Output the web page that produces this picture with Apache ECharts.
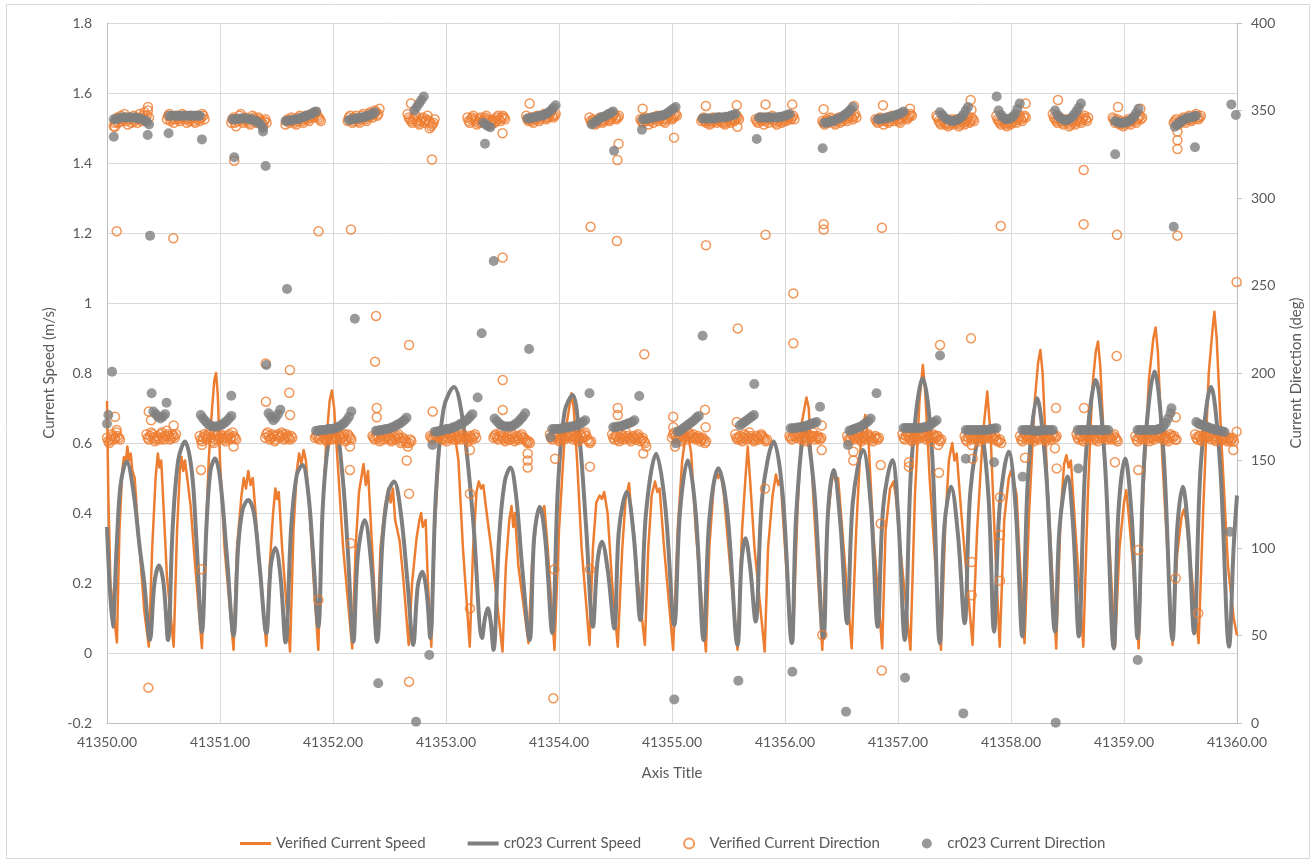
<!DOCTYPE html>
<html>
<head>
<meta charset="utf-8">
<title>Current speed and direction</title>
<script src="https://cdn.jsdelivr.net/npm/echarts@6/dist/echarts.min.js"></script>
<style>
  html, body { margin: 0; padding: 0; background: #fff; }
  #chart { width: 1316px; height: 863px; }
</style>
</head>
<body>
<div id="chart"></div>
<script>
// Times are stored as days after DAY0 (spreadsheet day numbers).
const DAY0 = 41350;
// Measured direction runs are 15-minute records, modelled runs are half-hourly.
const MEASURED_STEP = 1 / 96;
const MODEL_STEP = 1 / 48;

const xRange = [41350, 41360];
const speedRange = [-0.2, 1.8];
const directionRange = [0, 400];

const seriesNames = ['Verified Current Speed', 'cr023 Current Speed', 'Verified Current Direction', 'cr023 Current Direction'];

// Measured current speed (m/s)
const verifiedSpeed = [
  [0.000,0.72],[0.012,0.45],[0.03,0.20],[0.088,0.03],[0.11,0.35],[0.135,0.52],[0.15,0.56],[0.165,0.54],[0.18,0.59],[0.195,0.55],[0.21,0.57],[0.225,0.52],[0.245,0.50],[0.27,0.38],[0.30,0.25],[0.33,0.12],[0.37,0.018],
  [0.40,0.30],[0.43,0.50],[0.45,0.57],[0.465,0.53],[0.48,0.55],[0.50,0.42],[0.53,0.22],[0.59,0.018],
  [0.62,0.35],[0.645,0.52],[0.66,0.56],[0.675,0.52],[0.69,0.55],[0.71,0.50],[0.74,0.42],[0.78,0.25],[0.84,0.014],
  [0.87,0.30],[0.90,0.55],[0.93,0.70],[0.95,0.78],[0.965,0.80],[0.98,0.74],[1.00,0.55],[1.04,0.30],[1.12,0.009],
  [1.15,0.30],[1.19,0.45],[1.21,0.50],[1.23,0.47],[1.25,0.52],[1.27,0.48],[1.29,0.50],[1.31,0.42],[1.35,0.25],[1.41,0.02],
  [1.44,0.25],[1.47,0.40],[1.49,0.47],[1.505,0.44],[1.52,0.46],[1.55,0.30],[1.62,0.004],
  [1.65,0.35],[1.68,0.52],[1.70,0.57],[1.72,0.54],[1.74,0.58],[1.76,0.55],[1.79,0.42],[1.83,0.20],[1.87,0.009],
  [1.90,0.35],[1.94,0.60],[1.97,0.72],[1.99,0.75],[2.01,0.70],[2.04,0.55],[2.09,0.30],[2.17,0.013],
  [2.20,0.30],[2.23,0.46],[2.25,0.50],[2.27,0.54],[2.29,0.48],[2.31,0.52],[2.33,0.40],[2.36,0.22],[2.39,0.03],
  [2.42,0.30],[2.46,0.42],[2.49,0.47],[2.51,0.43],[2.53,0.47],[2.55,0.38],[2.59,0.32],[2.62,0.22],[2.67,0.023],
  [2.70,0.20],[2.74,0.33],[2.765,0.38],[2.78,0.40],[2.795,0.36],[2.82,0.38],[2.84,0.20],[2.87,0.018],
  [2.90,0.35],[2.94,0.58],[2.97,0.63],[3.00,0.65],[3.02,0.62],[3.05,0.65],[3.08,0.62],[3.11,0.55],[3.15,0.30],[3.21,0.018],
  [3.24,0.30],[3.27,0.46],[3.29,0.49],[3.31,0.47],[3.33,0.48],[3.36,0.40],[3.40,0.30],[3.44,0.18],[3.50,0.004],
  [3.53,0.25],[3.56,0.38],[3.58,0.42],[3.595,0.36],[3.61,0.40],[3.64,0.25],[3.73,0.028],
  [3.76,0.25],[3.80,0.38],[3.83,0.415],[3.85,0.40],[3.87,0.42],[3.90,0.30],[3.96,0.009],
  [4.00,0.35],[4.05,0.62],[4.09,0.70],[4.11,0.742],[4.13,0.70],[4.16,0.55],[4.20,0.30],[4.27,0.023],
  [4.30,0.30],[4.33,0.43],[4.36,0.45],[4.38,0.44],[4.40,0.46],[4.43,0.40],[4.47,0.20],[4.52,0.018],
  [4.56,0.30],[4.59,0.44],[4.62,0.485],[4.635,0.42],[4.66,0.35],[4.70,0.20],[4.76,0.023],
  [4.79,0.30],[4.82,0.45],[4.85,0.49],[4.87,0.46],[4.89,0.47],[4.93,0.30],[5.01,0.009],
  [5.05,0.35],[5.09,0.55],[5.12,0.62],[5.14,0.63],[5.17,0.57],[5.21,0.35],[5.30,0.004],
  [5.33,0.30],[5.37,0.48],[5.39,0.52],[5.41,0.50],[5.43,0.52],[5.46,0.45],[5.50,0.30],[5.58,0.009],
  [5.62,0.35],[5.65,0.50],[5.67,0.59],[5.69,0.50],[5.73,0.30],[5.82,0.004],
  [5.85,0.30],[5.89,0.45],[5.92,0.51],[5.94,0.48],[5.96,0.50],[5.99,0.35],[6.03,0.15],[6.07,0.03],
  [6.11,0.40],[6.15,0.66],[6.19,0.73],[6.21,0.70],[6.25,0.45],[6.33,0.009],
  [6.37,0.35],[6.41,0.48],[6.43,0.52],[6.45,0.49],[6.47,0.50],[6.50,0.38],[6.59,0.013],
  [6.63,0.35],[6.67,0.60],[6.71,0.68],[6.74,0.60],[6.78,0.35],[6.86,0.013],
  [6.89,0.35],[6.93,0.47],[6.96,0.49],[6.98,0.45],[7.02,0.30],[7.11,0.009],
  [7.15,0.45],[7.19,0.72],[7.22,0.823],[7.24,0.75],[7.28,0.50],[7.38,0.009],
  [7.42,0.38],[7.45,0.55],[7.48,0.60],[7.50,0.55],[7.52,0.57],[7.56,0.40],[7.66,0.023],
  [7.70,0.35],[7.75,0.62],[7.79,0.747],[7.82,0.62],[7.86,0.30],[7.90,0.018],
  [7.94,0.38],[7.98,0.50],[8.00,0.52],[8.02,0.50],[8.05,0.45],[8.08,0.25],[8.12,0.028],
  [8.16,0.40],[8.21,0.72],[8.24,0.83],[8.26,0.866],[8.28,0.80],[8.32,0.50],[8.40,0.013],
  [8.44,0.40],[8.47,0.54],[8.49,0.565],[8.51,0.53],[8.53,0.55],[8.57,0.35],[8.64,0.018],
  [8.68,0.45],[8.72,0.76],[8.75,0.86],[8.77,0.89],[8.79,0.82],[8.83,0.55],[8.92,0.018],
  [8.96,0.30],[9.00,0.43],[9.02,0.465],[9.04,0.40],[9.08,0.25],[9.13,0.013],
  [9.17,0.45],[9.22,0.78],[9.26,0.90],[9.28,0.93],[9.30,0.86],[9.34,0.55],[9.43,0.023],
  [9.47,0.28],[9.51,0.39],[9.53,0.41],[9.55,0.38],[9.59,0.25],[9.66,0.028],
  [9.70,0.40],[9.75,0.80],[9.785,0.93],[9.80,0.975],[9.82,0.90],[9.86,0.62],[9.92,0.25],[9.97,0.10],[10.0,0.05]
];

// Modelled current speed (m/s)
const cr023Speed = [
  [0.000,0.36],[0.050,0.075],[0.085,0.30],[0.12,0.48],[0.174,0.547],[0.23,0.47],[0.29,0.30],[0.33,0.20],[0.380,0.037],
  [0.42,0.20],[0.46,0.25],[0.50,0.20],[0.540,0.037],
  [0.58,0.35],[0.63,0.55],[0.690,0.604],[0.75,0.52],[0.79,0.33],[0.840,0.06],
  [0.88,0.36],[0.915,0.52],[0.956,0.556],[1.00,0.50],[1.06,0.28],[1.120,0.05],
  [1.16,0.30],[1.20,0.41],[1.250,0.437],[1.30,0.40],[1.35,0.25],[1.410,0.057],
  [1.45,0.25],[1.490,0.30],[1.535,0.22],[1.580,0.03],
  [1.63,0.36],[1.68,0.51],[1.730,0.537],[1.78,0.46],[1.82,0.30],[1.870,0.075],
  [1.91,0.42],[1.96,0.60],[2.02,0.64],[2.08,0.52],[2.13,0.30],[2.180,0.032],
  [2.22,0.28],[2.280,0.38],[2.34,0.25],[2.390,0.032],
  [2.44,0.33],[2.49,0.46],[2.540,0.49],[2.60,0.40],[2.66,0.20],[2.710,0.023],
  [2.75,0.19],[2.790,0.232],[2.83,0.17],[2.860,0.043],
  [2.91,0.45],[2.98,0.70],[3.070,0.76],[3.15,0.66],[3.24,0.38],[3.320,0.043],
  [3.345,0.10],[3.370,0.128],[3.395,0.09],[3.420,0.009],
  [3.47,0.33],[3.52,0.49],[3.570,0.53],[3.62,0.45],[3.67,0.26],[3.740,0.037],
  [3.78,0.33],[3.830,0.418],[3.88,0.32],[3.940,0.057],
  [3.99,0.47],[4.05,0.69],[4.120,0.737],[4.18,0.62],[4.24,0.36],[4.300,0.075],
  [4.34,0.26],[4.380,0.318],[4.43,0.24],[4.490,0.07],
  [4.53,0.35],[4.600,0.46],[4.66,0.34],[4.720,0.094],
  [4.77,0.40],[4.860,0.569],[4.94,0.42],[5.020,0.08],
  [5.07,0.40],[5.140,0.551],[5.21,0.40],[5.280,0.037],
  [5.33,0.38],[5.410,0.528],[5.49,0.40],[5.580,0.023],
  [5.615,0.26],[5.650,0.328],[5.69,0.25],[5.740,0.09],
  [5.80,0.45],[5.900,0.604],[5.98,0.45],[6.060,0.028],
  [6.10,0.40],[6.180,0.64],[6.26,0.46],[6.340,0.042],
  [6.38,0.40],[6.430,0.523],[6.49,0.37],[6.550,0.085],
  [6.60,0.43],[6.690,0.58],[6.76,0.42],[6.820,0.075],
  [6.87,0.42],[6.950,0.551],[7.00,0.40],[7.060,0.037],
  [7.12,0.55],[7.220,0.785],[7.30,0.58],[7.370,0.028],
  [7.41,0.36],[7.470,0.475],[7.53,0.34],[7.590,0.085],
  [7.64,0.46],[7.730,0.63],[7.80,0.45],[7.850,0.061],
  [7.90,0.42],[7.980,0.575],[8.04,0.42],[8.100,0.047],
  [8.15,0.50],[8.230,0.728],[8.31,0.52],[8.390,0.061],
  [8.43,0.36],[8.500,0.504],[8.55,0.36],[8.600,0.047],
  [8.66,0.55],[8.750,0.78],[8.83,0.55],[8.910,0.013],
  [8.95,0.40],[9.010,0.556],[9.07,0.38],[9.120,0.042],
  [9.18,0.56],[9.270,0.804],[9.35,0.57],[9.430,0.037],
  [9.47,0.35],[9.520,0.475],[9.57,0.34],[9.620,0.056],
  [9.68,0.54],[9.770,0.76],[9.85,0.54],[9.930,0.018],
  [9.97,0.30],[10.0,0.45]
];

// Measured direction (deg). Runs: [start day offset, 15-minute values]
const verifiedEbbRuns = [
  [0.06, [341,343,344,346,343,345,347,344,345,348,346,344,342,345,346,343,345,347,344,346,343,345,348,346,344,347,349,345,347,350,346]],
  [0.53, [345,347,348,344,345,346,343,345,347,346,345,344,346,348,347,345,346,343,345,344,347,345,346,344,343,346,347,345,344,346,348,347,345]],
  [1.10, [343,345,346,343,341,344,345,347,348,345,343,344,346,345,344,343,342,345,347,346,345,343,344,346,345,344,343,342,344,345,343]],
  [1.58, [342,344,345,343,344,346,345,344,343,342,344,346,347,345,344,343,345,347,346,345,344,346,348,347,346,348,349,347,346,345,344]],
  [2.13, [344,346,347,345,343,344,346,347,345,344,343,345,347,348,346,345,344,346,348,349,347,346,348,350,349,347,348,351]],
  [2.66, [348,346,345,344,343,345,346,347,344,343,342,344,345,346,343,344,345,347,344,343,341,342,343,345]],
  [3.19, [346,344,343,345,346,347,345,344,342,343,345,346,343,344,345,346,347,345,344,343,342,344,345,343,344,346,347,345,344,346,347,346,345]],
  [3.71, [347,345,344,345,346,344,343,345,345,347,346,344,345,346,347,348,346,345,346,347,348,349,347,346,347,348]],
  [4.27, [346,344,343,345,344,342,343,344,345,346,344,343,344,345,346,347,345,344,345,346,347,348,346,345,346,347]],
  [4.72, [345,344,343,345,346,344,345,342,344,345,346,343,345,346,347,344,345,346,347,345,344,343,345,346,347,348,346,345,346,347,348,347]],
  [5.26, [344,345,346,344,343,345,344,342,343,344,346,345,344,343,345,346,344,345,343,344,342,343,345,346,344,343,345,346,344,345,347,346,345]],
  [5.74, [345,344,343,345,346,344,345,342,344,345,346,343,345,346,347,344,345,343,342,344,345,346,343,344,345,346,344,345,346,347,345,346,347,345]],
  [6.33, [344,343,342,344,345,343,344,346,345,344,343,342,344,345,346,343,345,344,346,347,345,344,346,347,348,346,345,347,348,346]],
  [6.80, [345,344,343,345,346,344,345,342,344,345,346,343,344,346,347,345,344,346,347,345,344,343,345,346,347,348,346,345,346,347,348,347]],
  [7.34, [347,346,344,343,342,344,345,343,342,343,341,342,344,345,343,342,344,345,343,341,342,344,345,343,342,344,345,346,343,344,346,345,344]],
  [7.87, [347,345,344,343,342,344,345,343,342,341,343,344,342,343,345,346,344,343,345,346,347,345,344,346,347,346]],
  [8.37, [348,346,345,344,343,345,346,344,343,342,344,345,344,343,341,342,344,345,343,342,344,345,346,344,343,345,346,347,345,344,346]],
  [8.90, [346,345,343,344,345,343,342,344,343,341,342,343,344,345,343,342,344,345,346,344,343,345,346,347,345,346]],
  [9.44, [343,344,345,343,342,343,344,345,346,344,343,345,346,347,345,344,345,346,347,348,346,345,346,347]]
];
const verifiedFloodRuns = [
  [0.00, [163,161,160,162,165,164,162,163,166,164,163,162]],
  [0.35, [165,163,162,164,166,165,163,161,162,164,163,162,165,166,163,162,164,167,165,164,162,163,165,164,163,165]],
  [0.82, [164,162,161,163,165,164,162,163,166,165,163,161,160,162,164,165,162,163,165,164,163,162,161,163,164,165,162,163,166,164,163,162]],
  [1.40, [163,165,166,164,162,163,165,164,161,162,164,165,163,164,166,165,162,163,165,164,163,162,164,163]],
  [1.84, [163,164,165,163,162,164,166,165,163,162,161,163,164,165,162,163,165,164,163,162,166,164,162,163,164,165,161,162,165,164,163,162]],
  [2.35, [164,163,162,164,165,163,161,162,164,165,162,163,166,164,163,162,161,162,164,163,162,164,165,163,160,161,163,162,161,160,158,160,162,161]],
  [2.86, [164,163,162,164,165,164,163,165,166,164,162,163,164,162,161,163,165,164,163,162,166,164,162,163,164,163,162,164,165,163,163,162,161,163,164,163,162,164,165,163]],
  [3.42, [163,164,165,163,162,164,166,164,163,162,161,163,164,162,162,164,165,163,161,162,164,163,162,164,165,163,163,162,161,160,161,160]],
  [3.92, [165,163,162,164,166,164,163,162,161,163,164,163,162,164,165,164,163,165,166,164,162,163,164,163,161,162,165,164,163,165,166,164,162,161,160,161]],
  [4.47, [165,163,162,164,164,162,161,163,165,164,162,163,166,164,163,162,161,163,164,163,162,164,165,163,161,162,163,161,160,158]],
  [5.00, [163,165,166,164,162,163,165,164,161,162,164,163,162,164,166,165,163,164,165,163,162,163,164,163,161,162,163,162,160,161]],
  [5.56, [165,163,162,163,164,162,161,163,165,164,162,163,166,164,163,162,161,162,164,163,162,164,165,164,163,162,161,162]],
  [6.04, [164,163,162,164,165,164,163,165,166,164,162,163,164,162,161,163,165,164,163,164,166,164,162,163,164,163,162,163]],
  [6.55, [164,162,161,163,165,164,162,163,166,164,163,162,161,163,164,163,162,164,165,164,163,162,161,163,164,163,162,163]],
  [7.04, [165,163,162,164,166,164,163,162,161,163,164,163,162,164,165,164,163,165,166,164,162,163,164,163,161,163,165,164,163,164,164,162,161,162]],
  [7.59, [164,162,161,163,165,164,162,163,166,164,163,162,161,163,164,163,162,164,165,164,163,165,166,164,162,163,164,162,161,161,162,160]],
  [8.08, [164,162,161,163,165,164,162,163,165,164,163,162,161,163,164,163,162,164,166,165,163,162,161,163,164,163,162,164,165,164,163,164]],
  [8.58, [165,163,162,164,164,162,161,163,165,164,163,164,166,164,162,163,164,162,161,163,165,164,163,164,166,164,162,163,164,163,162,164,165,163,162,161]],
  [9.10, [164,162,161,163,165,164,162,163,166,164,163,162,161,163,164,163,162,164,165,164,163,165,166,164,162,163,164,162,161,163,165,164,163,164,162,162]],
  [9.63, [165,163,162,164,164,162,161,163,165,164,163,164,166,164,162,163,164,162,161,163,165,164,163,162,162,164,163,161,162,163,161,162,163,161]]
];
const verifiedDirOther = [
  [0.07,340.7],[0.363,352],[2.69,354],[2.855,339.8],[3.50,337],[3.74,354],[4.74,351],[5.30,352.6],[5.573,353],[5.579,340.7],
  [5.828,353.5],[6.064,353.5],[6.342,350.7],[6.611,352.6],[6.867,353],[7.106,351],[7.643,356],[7.65,350.5],[8.129,354],[8.416,356],
  [8.947,352],[9.145,351],[9.473,338],[9.473,333],[9.473,328],
  [0.071,175],[0.086,167.4],[0.37,178],[0.39,173],[0.59,170],[0.84,159],[1.12,158],[1.62,176],
  [0.086,281],[0.366,20.2],[0.587,277],[0.832,144.6],[0.838,87.8],[1.126,321.3],[1.405,205.5],[1.407,183.6],[1.613,188.7],[1.619,201.7],
  [1.870,70.3],[1.872,281],[2.150,158],[2.150,144.6],[2.157,102.7],[2.159,282],[2.372,206.5],[2.381,232.6],[2.387,180],[2.387,174.7],
  [2.652,150],[2.673,216],[2.673,131],[2.673,23.6],[2.876,322],[2.882,178],[3.212,156],[3.212,131],[3.212,65.5],[3.501,266],
  [3.502,196],[3.502,178.9],[3.723,154],[3.723,150],[3.723,146],[3.950,14.1],[3.958,87.8],[3.965,151],[4.274,146.5],[4.274,87.8],
  [4.279,283.6],[4.512,275.4],[4.517,321.7],[4.520,180],[4.520,176],[4.527,331],[4.746,154],[4.755,210.7],[5.011,175],[5.011,169],
  [5.018,334.5],[5.027,158],[5.292,179],[5.298,169],[5.301,273],[5.573,172],[5.582,225.5],[5.823,134],[5.828,279],[6.074,245.5],
  [6.074,217],[6.325,170],[6.325,156],[6.330,50.3],[6.342,285],[6.342,282],[6.605,155],[6.605,150],[6.847,147.4],[6.847,114],
  [6.856,30],[6.858,283],[7.097,149],[7.097,146.5],[7.357,158.9],[7.363,143],[7.372,216],[7.646,219.8],[7.652,158.9],[7.661,151],
  [7.652,92],[7.652,73],[7.903,129],[7.903,107.4],[7.903,81.3],[7.909,284],[8.124,151.6],[8.389,157],[8.398,180],[8.404,145.5],
  [8.643,316],[8.643,285],[8.646,180],[8.920,149],[8.935,209.7],[8.938,279],[9.127,144.6],[9.127,98.9],[9.458,174.7],[9.458,82.7],
  [9.473,278.5],[9.657,62.7],[9.967,156],[9.997,166.5],[9.997,252]
];

// Modelled direction (deg). Runs: [start day offset, half-hourly values]
const cr023EbbRuns = [
  [0.06, [345,345,345.5,346,346,346,346,346,346,346,345.5,345.5,345,344.5,343.5,342]],
  [0.55, [347,347,347,347,347,347,347,347,347,347,347,347,347,347]],
  [1.11, [345,345,345,345.5,345.5,345.5,345.5,345,345,344.5,344,343,342,340]],
  [1.58, [344,344,344.5,344.5,345,345,345.5,346,346.5,347,347.5,348,349,349.5]],
  [2.14, [344.5,345,345,345.5,345.5,346,346,346.5,347,347.5,348,349]],
  [2.72, [350,352,354,356,358]],
  [3.33, [343,342,341,340.5]],
  [3.72, [345.5,345.5,346,346,346.5,347,347,347.5,348,349,350,351.5,353]],
  [4.29, [342,343,344,345,346,346.5,347,348,348.5,349.5]],
  [4.74, [345,345,345.5,345.5,346,346,346.5,347,347,347.5,348,349,350,351,352]],
  [5.27, [345.5,345.5,345.5,345.5,345.5,345.5,346,346,346,346,346.5,346.5,347,347.5,348]],
  [5.77, [346,346,346,346,346,346,346,346,346,346.5,346.5,347,347.5,348]],
  [6.35, [343,343,343.5,344,344,345,345.5,346,347,348,349,350.5,352]],
  [6.82, [345,345,345.5,345.5,346,346,346.5,347,347.5,348,348.5,349.5]],
  [7.37, [349,347.5,346,345,344.5,344,344,344.5,345,346,347.5,350,352]],
  [7.89, [350,347.5,346,345,345,345.5,346.5,348,351,354]],
  [8.39, [350,347.5,346,345,344.5,344.5,345,346,347.5,349.5,351.5,354]],
  [8.92, [344,343.5,343,343,343,343.5,344,345,346.5,348.5,351]],
  [9.45, [340.7,342,343,344,345,345.5,346,346,346.5,347]]
];
const cr023FloodRuns = [
  [0.41, [178,176.5,175,174,175,176.5]],
  [0.83, [176,174,172.5,171,170,169.5,169.5,169.5,170,170.5,171.5,172.5,174,175.5]],
  [1.43, [177,175,173,174.5,176.5,179]],
  [1.85, [167,167,167.5,167.5,167.5,168,168,168,168.5,169,169.5,170.5,171.5,173,175,178]],
  [2.38, [167,167,167.5,167.5,168,168,168.5,169,169.5,170.5,171,172,173,174.5]],
  [2.90, [166.5,166.5,167,167,167.5,168,168,168.5,169,169.5,170,171,171.5,172.5,173.5,175,176.5]],
  [3.43, [174,172.5,171,170,169.5,169.5,169.5,169.5,170,171,172,173.5,175,177]],
  [3.94, [168,168,168,168,168.5,168.5,169,169,169.5,169.5,170,170.5,171,172,173]],
  [4.48, [169,169,169.5,169.5,170,170.5,171,171.5,172,173]],
  [5.05, [166.5,167,168,169,170,171,172,173,174.5,175.5]],
  [5.60, [170,171,172,173,174,175,176]],
  [6.05, [168.4,168.5,168.6,168.8,169,169.3,169.6,170,170.5,171,171.5,172]],
  [6.57, [167,167.5,168,168.5,169,169.5,170.5,171.5,172.5,174]],
  [7.05, [168.6,168.6,168.6,168.6,168.6,168.6,168.6,168.6,168.8,169,169.5,170,171,172,173]],
  [7.60, [167.4,167.4,167.4,167.4,167.4,167.4,167.4,167.4,167.4,167.5,167.7,168,168.3,168.5]],
  [8.10, [167.4,167.4,167.4,167.4,167.2,167,167,167,167.2,167.4,167.4,167.4,167.4,167.4]],
  [8.59, [167.4,167.4,167.4,167.4,167.4,167.4,167.4,167.4,167.4,167.4,167.4,167.4,167.4,167.4]],
  [9.12, [167.4,167.4,167.4,167.4,167.4,167.4,167.4,167.4,167.6,168,168.5,169.5,171.5,174,177]],
  [9.64, [172,171,170.5,170,169.5,169,168.5,168,167.5,167.3,167,166.7,166.3]]
];
const cr023DirOther = [
  [0.00,171],[0.012,176],[3.925,163.3],[9.42,179.8],[9.95,353.5],[9.99,347.4],
  [0.045,200.7],[0.06,335],[0.36,336],[0.381,278.5],[0.395,188.4],[0.527,183],[0.545,337],[0.84,333.5],[1.10,187],[1.126,323.3],
  [1.381,338],[1.404,318.3],[1.41,204.6],[1.593,248],[2.193,231],[2.40,22.7],[2.735,0.7],[2.852,38.9],[2.88,158.9],[3.28,186],
  [3.316,222.7],[3.345,331],[3.422,264],[3.735,213.7],[4.27,188.4],[4.487,327],[4.71,186.9],[4.734,339],[5.020,13.5],[5.035,159.8],
  [5.271,221.3],[5.587,24.2],[5.728,193.7],[5.750,333.7],[6.065,29.3],[6.31,180.7],[6.333,328.4],[6.540,6.5],[6.557,158.9],[6.81,188.4],
  [7.062,25.9],[7.372,210],[7.578,5.5],[7.60,151],[7.85,149],[7.873,358],[8.103,140.7],[8.396,0.2],[8.596,145.5],[8.922,325],
  [9.121,36],[9.440,283.6],[9.628,329],[9.938,109.3]
];

const toDay = arr => arr.map(([d, v]) => [DAY0 + d, v]);
const runsToDay = (runs, step) => runs.flatMap(([start, vals]) => vals.map((v, i) => [DAY0 + start + i * step, v]));

const ORANGE = '#ED7D31';
const GREY = '#7F7F7F';
const TEXT = '#595959';
const GRID = '#D9D9D9';
const FONT = 'Lato, "Open Sans", sans-serif';

const chart = echarts.init(document.getElementById('chart'), null, { renderer: 'canvas' });

chart.setOption({
  animation: false,
  backgroundColor: '#ffffff',
  textStyle: { fontFamily: FONT },
  graphic: [{
    type: 'rect',
    silent: true,
    shape: { x: 6.5, y: 4.5, width: 1303, height: 854 },
    style: { fill: 'none', stroke: GRID, lineWidth: 1 }
  }],
  grid: { left: 107, right: 79, top: 23, bottom: 140, containLabel: false },
  legend: {
    bottom: 7,
    left: 235,
    itemGap: 42,
    itemWidth: 31,
    itemHeight: 10,
    textStyle: { color: TEXT, fontSize: 15, fontFamily: FONT },
    data: [
      { name: seriesNames[0], icon: 'path://M0,0 L31,0 L31,3 L0,3 Z' },
      { name: seriesNames[1], icon: 'path://M0,0 L31,0 L31,4 L0,4 Z' },
      { name: seriesNames[2], icon: 'circle' },
      { name: seriesNames[3], icon: 'circle' }
    ]
  },
  xAxis: {
    type: 'value',
    min: xRange[0],
    max: xRange[1],
    interval: 1,
    name: 'Axis Title',
    nameLocation: 'middle',
    nameGap: 43,
    nameTextStyle: { color: TEXT, fontSize: 15, fontFamily: FONT },
    axisLine: { show: true, onZero: false, lineStyle: { color: '#BFBFBF', width: 1 } },
    axisTick: { show: false },
    axisLabel: { color: TEXT, fontSize: 14, margin: 12, formatter: v => v.toFixed(2) },
    splitLine: { show: true, lineStyle: { color: GRID, width: 1 } }
  },
  yAxis: [{
    type: 'value',
    min: speedRange[0],
    max: speedRange[1],
    interval: 0.2,
    name: 'Current Speed (m/s)',
    nameLocation: 'middle',
    nameGap: 50,
    nameRotate: 90,
    nameTextStyle: { color: TEXT, fontSize: 15, fontFamily: FONT },
    axisLine: { show: true, onZero: false, lineStyle: { color: '#BFBFBF', width: 1 } },
    axisTick: { show: false },
    axisLabel: { color: TEXT, fontSize: 14, margin: 15, formatter: v => String(+v.toFixed(1)) },
    splitLine: { show: true, lineStyle: { color: GRID, width: 1 } }
  }, {
    type: 'value',
    position: 'right',
    min: directionRange[0],
    max: directionRange[1],
    interval: 50,
    name: 'Current Direction (deg)',
    nameLocation: 'middle',
    nameGap: 52,
    nameRotate: 90,
    nameTextStyle: { color: TEXT, fontSize: 15, fontFamily: FONT },
    axisLine: { show: true, onZero: false, lineStyle: { color: '#BFBFBF', width: 1 } },
    axisTick: { show: true, length: 5, inside: false, lineStyle: { color: '#BFBFBF' } },
    axisLabel: { color: TEXT, fontSize: 14, margin: 14 },
    splitLine: { show: false }
  }],
  series: [{
    name: seriesNames[0],
    type: 'line',
    yAxisIndex: 0,
    data: toDay(verifiedSpeed),
    symbol: 'none',
    showSymbol: false,
    lineStyle: { color: ORANGE, width: 2.5, join: 'round' },
    itemStyle: { color: ORANGE },
    z: 2
  }, {
    name: seriesNames[1],
    type: 'line',
    yAxisIndex: 0,
    data: toDay(cr023Speed),
    symbol: 'none',
    showSymbol: false,
    smooth: 0.35,
    lineStyle: { color: GREY, width: 4, join: 'round' },
    itemStyle: { color: GREY },
    z: 3
  }, {
    name: seriesNames[2],
    type: 'scatter',
    yAxisIndex: 1,
    data: runsToDay(verifiedEbbRuns, MEASURED_STEP).concat(runsToDay(verifiedFloodRuns, MEASURED_STEP), toDay(verifiedDirOther)),
    symbol: 'circle',
    symbolSize: 9,
    large: false,
    itemStyle: { color: 'rgba(255,255,255,0)', borderColor: ORANGE, borderWidth: 1.5 },
    z: 4
  }, {
    name: seriesNames[3],
    type: 'scatter',
    yAxisIndex: 1,
    data: runsToDay(cr023EbbRuns, MODEL_STEP).concat(runsToDay(cr023FloodRuns, MODEL_STEP), toDay(cr023DirOther)),
    symbol: 'circle',
    symbolSize: 10,
    large: false,
    itemStyle: { color: GREY },
    z: 5
  }]
});
</script>
</body>
</html>
